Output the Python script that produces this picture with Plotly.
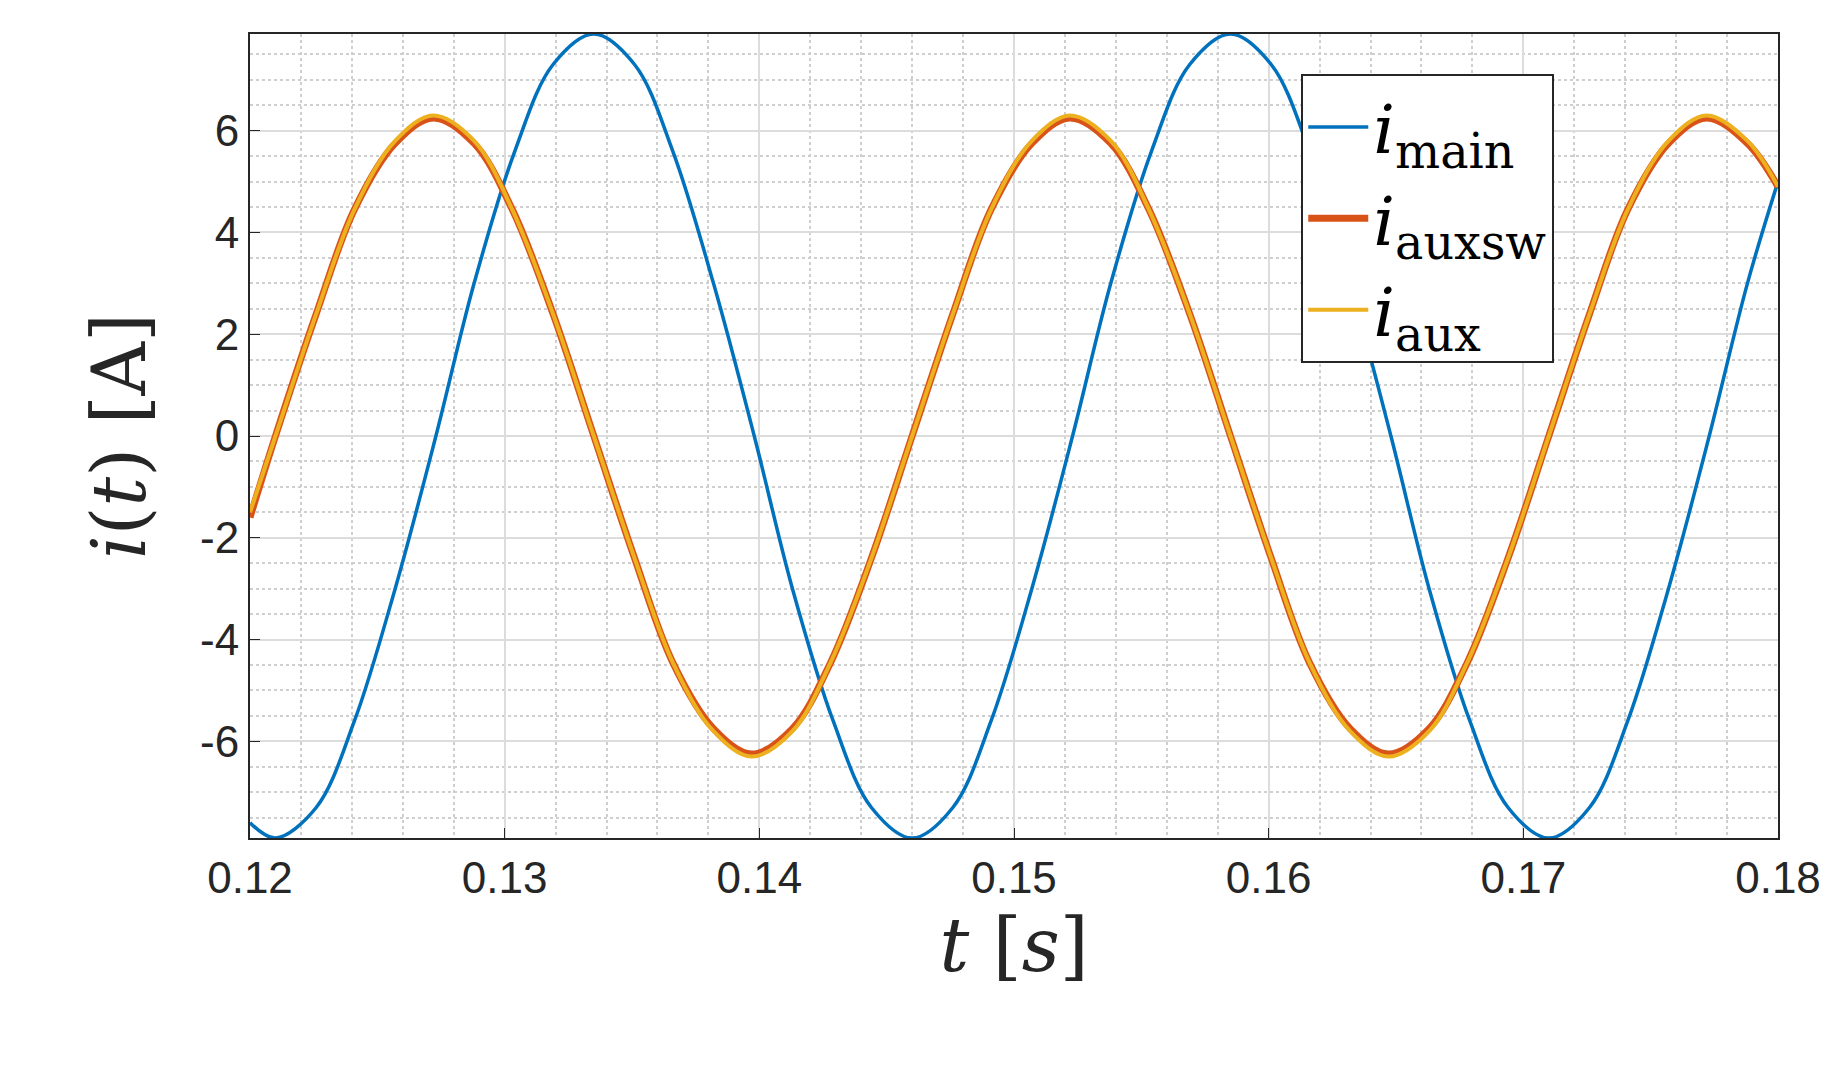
import plotly.graph_objects as go

t_main = [0.12,0.121,0.1226,0.1241,0.1257,0.1273,0.1288,0.1304,0.1319,0.1335,0.1351,0.1366,0.1382,0.1398,0.1413,0.1429,0.1444,0.146,
          0.1476,0.1491,0.1507,0.1523,0.1538,0.1554,0.1569,0.1585,0.1601,0.1616,0.1632,0.1648,0.1663,0.1679,0.1694,0.171,
          0.1726,0.1741,0.1757,0.1773,0.1788,0.18]
i_main = [-7.6,-7.9,-7.3,-5.6,-3.0,0,3.0,5.6,7.3,7.9,7.3,5.6,3.0,0,-3.0,-5.6,-7.3,-7.9,
          -7.3,-5.6,-3.0,0,3.0,5.6,7.3,7.9,7.3,5.6,3.0,0,-3.0,-5.6,-7.3,-7.9,
          -7.3,-5.6,-3.0,0,3.0,5.0]
t_aux = [0.12,0.121,0.1226,0.1241,0.1257,0.1272,0.1288,0.1303,0.1319,0.1335,0.1351,0.1366,0.1382,0.1397,0.1413,0.1428,0.1444,0.146,
         0.1476,0.1491,0.1507,0.1522,0.1538,0.1553,0.1569,0.1585,0.1601,0.1616,0.1632,0.1647,0.1663,0.1678,0.1694,0.171,
         0.1726,0.1741,0.1757,0.1772,0.1788,0.18]
i_auxsw = [-1.6,0,2.4,4.45,5.75,6.25,5.75,4.45,2.4,0,-2.4,-4.45,-5.75,-6.25,-5.75,-4.45,-2.4,0,
           2.4,4.45,5.75,6.25,5.75,4.45,2.4,0,-2.4,-4.45,-5.75,-6.25,-5.75,-4.45,-2.4,0,
           2.4,4.45,5.75,6.25,5.75,4.9]
i_aux = [-1.5,0,2.4,4.45,5.8,6.3,5.8,4.45,2.4,0,-2.4,-4.45,-5.8,-6.3,-5.8,-4.45,-2.4,0,
         2.4,4.45,5.8,6.3,5.8,4.45,2.4,0,-2.4,-4.45,-5.8,-6.3,-5.8,-4.45,-2.4,0,
         2.4,4.45,5.8,6.3,5.8,4.9]
xticks = [0.12,0.13,0.14,0.15,0.16,0.17,0.18]
yticks = [-6,-4,-2,0,2,4,6]

fig = go.Figure()
fig.add_trace(go.Scatter(x=t_main, y=i_main, mode="lines", line=dict(color="#0072BD", width=3.5, shape="spline", smoothing=1.0),
                         name="<i>i</i><sub>main</sub>"))
fig.add_trace(go.Scatter(x=t_aux, y=i_auxsw, mode="lines", line=dict(color="#D95319", width=7, shape="spline", smoothing=1.0),
                         name="<i>i</i><sub>auxsw</sub>"))
fig.add_trace(go.Scatter(x=t_aux, y=i_aux, mode="lines", line=dict(color="#EDB120", width=4, shape="spline", smoothing=1.0),
                         name="<i>i</i><sub>aux</sub>"))

axcommon = dict(showline=True, linecolor="#262626", linewidth=2, mirror=True, ticks="inside", ticklen=10,
                tickcolor="#262626", gridcolor="#dcdcdc", gridwidth=1.5, zeroline=False,
                tickfont=dict(family="Liberation Sans, Arial", size=44, color="#262626"))
fig.update_xaxes(range=[0.12,0.18], tickvals=xticks, ticktext=[f"{v:.2f}" for v in xticks],
                 minor=dict(dtick=0.002, showgrid=True, gridcolor="#cfcfcf", griddash="dot", gridwidth=1.5),
                 title=dict(text="<i>t</i> [<i>s</i>]", font=dict(family="DejaVu Serif, Times New Roman", size=74, color="#262626"), standoff=15),
                 **axcommon)
fig.update_yaxes(range=[-7.9,7.9], tickvals=yticks, ticktext=[str(v) for v in yticks],
                 minor=dict(dtick=0.5, showgrid=True, gridcolor="#cfcfcf", griddash="dot", gridwidth=1.5),
                 title=dict(text="<i>i</i>(<i>t</i>) [A]", font=dict(family="DejaVu Serif, Times New Roman", size=74, color="#262626"), standoff=30),
                 **axcommon)
fig.update_layout(width=1844, height=1070, margin=dict(l=242, r=74, t=26, b=240),
                  plot_bgcolor="white", paper_bgcolor="white", showlegend=True,
                  legend=dict(x=0.688, y=0.95, xanchor="left", yanchor="top", bgcolor="white",
                              bordercolor="#262626", borderwidth=2, tracegroupgap=14, itemwidth=60,
                              font=dict(family="DejaVu Serif, Times New Roman", size=68, color="black")))
fig.write_html("out.html")
